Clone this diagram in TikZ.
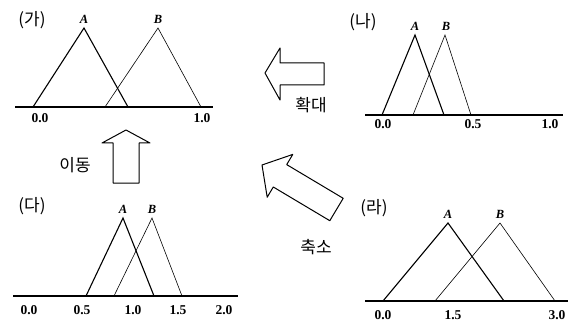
\documentclass[tikz,border=0pt]{standalone}
\usepackage{fontspec}
\setmainfont{Liberation Serif}
\newfontfamily\kr{Noto Sans CJK KR}
\usetikzlibrary{positioning}

\begin{document}
\begin{tikzpicture}[
    x=1pt, y=-1pt,
    axis/.style={line width=1.2pt},
    setA/.style={line width=1.1pt},
    setB/.style={line width=0.6pt},
    setlbl/.style={
        font=\fontsize{12.5}{14}\selectfont\bfseries\itshape,
        inner sep=1pt
    },
    ticklbl/.style={
        font=\fontsize{13.5}{15}\selectfont\bfseries,
        inner sep=1pt
    },
    panel/.style={
        font=\kr\fontsize{17}{20}\selectfont,
        inner sep=1pt
    },
    oplbl/.style={
        font=\kr\fontsize{17}{20}\selectfont,
        inner sep=1pt
    },
    bigarrow/.style={
        draw,
        line width=1pt,
        line join=round,
        fill=white
    }
]
\useasboundingbox (0,0) rectangle (573,326);

% Panel (ga)
\node[panel] (pga) at (32,20) {(가)};
\draw[axis] (15,107) -- (213,107);
\draw[setA] (33,107) -- (84,28) -- (128,107);
\draw[setB] (105,107) -- (158,28) -- (201,107);
\node[setlbl] (gaA) at (84,19) {A};
\node[setlbl] (gaB) at (158,19) {B};
\foreach \x/\t [count=\i] in {40/0.0, 202/1.0}
    \node[ticklbl] (ga\i) at (\x,118) {\t};

% Panel (na)
\node[panel] (pna) at (363,22) {(나)};
\draw[axis] (365,115) -- (563,115);
\draw[setA] (382,115) -- (415,35) -- (444,115);
\draw[setB] (413,115) -- (445,35) -- (471,115);
\node[setlbl] (naA) at (415,26) {A};
\node[setlbl] (naB) at (446,26) {B};
\foreach \x/\t [count=\i] in {383/0.0, 473/0.5, 550/1.0}
    \node[ticklbl] (na\i) at (\x,124) {\t};

% Panel (da)
\node[panel] (pda) at (32,206) {(다)};
\draw[axis] (13,296) -- (238,296);
\draw[setA] (86,296) -- (123,218) -- (154,296);
\draw[setB] (114,296) -- (152,218) -- (182,296);
\node[setlbl] (daA) at (123,209) {A};
\node[setlbl] (daB) at (152,209) {B};
\foreach \x/\t [count=\i] in {29/0.0, 82/0.5, 133/1.0, 178/1.5, 224/2.0}
    \node[ticklbl] (da\i) at (\x,310) {\t};

% Panel (ra)
\node[panel] (pra) at (374,208) {(라)};
\draw[axis] (365,301) -- (568,301);
\draw[setA] (383,301) -- (448,223) -- (504,301);
\draw[setB] (435,301) -- (500,223) -- (555,301);
\node[setlbl] (raA) at (448,214) {A};
\node[setlbl] (raB) at (500,214) {B};
\foreach \x/\t [count=\i] in {383/0.0, 453/1.5, 557/3.0}
    \node[ticklbl] (ra\i) at (\x,315) {\t};

% Operation arrows
\draw[bigarrow] (126,130) -- (150,143) -- (139,143) -- (139,183)
    -- (113,183) -- (113,143) -- (102,143) -- cycle;
\node[oplbl] (move) at (75,165) {이동};

\draw[bigarrow] (265,73) -- (280,48) -- (280,63) -- (324,63)
    -- (324,85) -- (280,85) -- (280,100) -- cycle;
\node[oplbl] (expand) at (311,105) {확대};

\draw[bigarrow] (262,165) -- (292.8,154.4) -- (286.7,164.6) -- (343.2,198.3)
    -- (329.8,220.7) -- (273.3,187) -- (267.2,197.2) -- cycle;
\node[oplbl] (shrink) at (316,247) {축소};
\end{tikzpicture}
\end{document}
